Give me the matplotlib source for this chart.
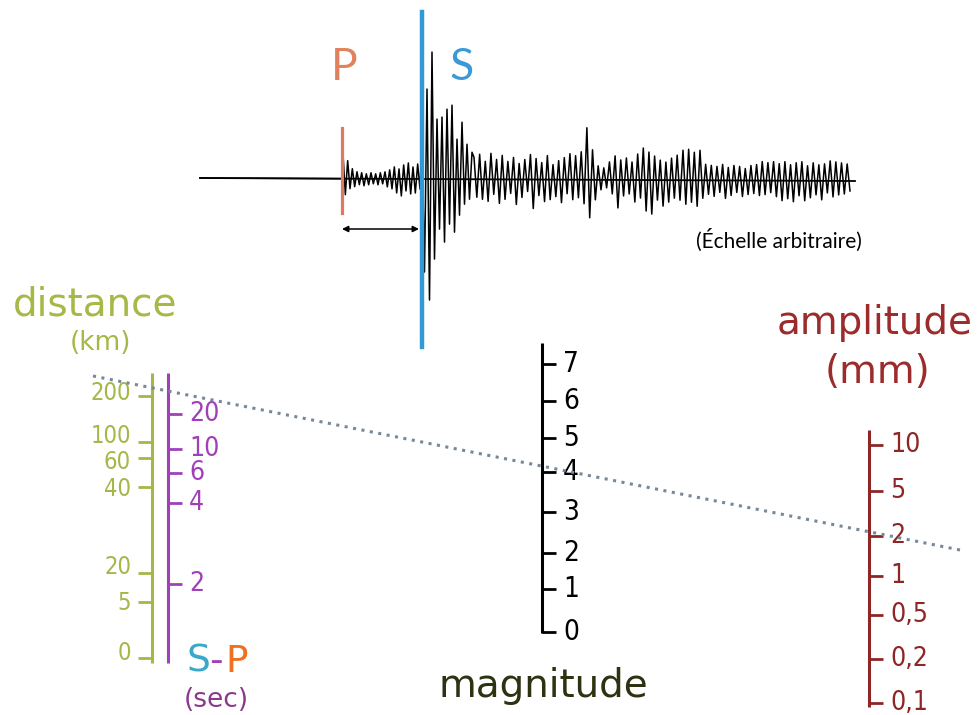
import numpy as np
import matplotlib
matplotlib.use('Agg')
import matplotlib.pyplot as plt

# nomogram scales (labels, bottom -> top)
distance_labels = ['0', '5', '20', '40', '60', '100', '200']
sp_labels = ['2', '4', '6', '10', '20']
magnitude_labels = ['0', '1', '2', '3', '4', '5', '6', '7']
amplitude_labels = ['0,1', '0,2', '0,5', '1', '2', '5', '10']

# seismogram extrema (arbitrary units, + is up)
p_coda = [25, -16, 18, -10, 10, -8, 7, -6, 6, -7,
          5, -6, 6, -5, 5, -6, 6, -5, 7, -8,
          9, -10, 12, -14, 10, -17, 14, -12, 16, -15,
          12, -14, 15, -10]
s_onset = [40, -93, 90, -121, 127, -80, 60, -50, 62, -63,
           70, -45, 74, -53, 40, -36, 57, -25, 35, -20, 27]
coda_mid = [22, -18, 25, -20, 18, -22, 26, -15, 20, -24,
            24, -20, 18, -14, 22, -25, 16, -18, 20, -12,
            25, -29, 21, -16, 17, -22, 24, -20, 15, -17,
            19, -23, 22, -14, 26, -20, 24, -18, 28, -24,
            52, -38, 30, -20, 14, -10, 12, -8, 18, -14,
            24, -28, 20, -16, 22, -14, 18, -22, 26, -18,
            32, -31, 28, -34, 24, -20, 20, -26, 18, -22,
            22, -18, 25, -20]
coda_end = [30, -24, 31, -22, 28, -26, 30, -18, 16, -14,
            15, -16, 14, -12, 16, -18, 13, -15, 15, -12,
            14, -16, 12, -14, 15, -13, 16, -15, 19, -14,
            18, -12, 19, -16, 17, -20, 19, -18, 16, -21,
            18, -15, 19, -20, 15, -17, 18, -14, 16, -19,
            17, -12, 20, -16, 19, -14, 18, -13, 17, -10]

# layout (pixel coordinates of the drawing)
distance_y = [658, 602, 573, 487, 458, 442, 396]
distance_text_y = [653, 603, 567, 489, 462, 436, 393]
sp_y = [584, 503, 473, 449, 414]
magnitude_y = [632, 589, 553, 512, 472, 438, 401, 364]
amplitude_y = [703, 659, 615, 576, 536, 491, 445]

fig = plt.figure(figsize=(9.8, 7.15), dpi=100)
ax = fig.add_axes([0, 0, 1, 1])
ax.set_xlim(0, 980)
ax.set_ylim(715, 0)
ax.axis('off')

# ---- seismogram ----
segments = [(p_coda, 343, 420), (s_onset, 422, 472),
            (coda_mid, 474, 680), (coda_end, 683, 850)]
xs = [np.array([200.0, 342.0])]
amps = [np.array([0.0, 0.0])]
for vals, x0, x1 in segments:
    xs.append(np.linspace(x0, x1, len(vals)))
    amps.append(np.array(vals, dtype=float))
xs = np.concatenate(xs)
amps = np.concatenate(amps)


def baseline(x):
    return np.interp(x, [200, 855], [178, 181])


ax.plot(xs, baseline(xs) - amps, color='black', lw=1.1, zorder=2)
ax.plot([200, 855], baseline(np.array([200, 855])), color='black', lw=1.3, zorder=3)

ax.plot([342, 342], [128, 213], color='#e07a5c', lw=2.3, zorder=4)
ax.plot([422, 422], [12, 347], color='#3399d6', lw=3.2, zorder=4)
ax.text(344, 68, 'P', color='#e0825e', fontsize=32, family='Lato', ha='center', va='center')
ax.text(462, 68, 'S', color='#3a9ad8', fontsize=32, family='Lato', ha='center', va='center')
ax.annotate('', xy=(342, 229), xytext=(419, 229),
            arrowprops=dict(arrowstyle='<|-|>', color='black', lw=1.1, mutation_scale=9,
                            shrinkA=0, shrinkB=0))
ax.text(779, 240, '(Échelle arbitraire)', fontsize=15, family='Lato', ha='center', va='center')


# ---- nomogram scales ----
def draw_scale(x, top, bottom, ticks_y, labels, color, side, fs=19, text_y=None):
    ax.plot([x, x], [top, bottom], color=color, lw=2.2, solid_capstyle='butt')
    sign = -1 if side == 'left' else 1
    if text_y is None:
        text_y = ticks_y
    for y, ty, lab in zip(ticks_y, text_y, labels):
        ax.plot([x, x + sign * 14], [y, y], color=color, lw=2, solid_capstyle='butt')
        ax.text(x + sign * 21, ty, lab, color=color, fontsize=fs, fontstretch='condensed',
                ha='right' if side == 'left' else 'left', va='center')


draw_scale(152, 373, 663, distance_y, distance_labels, '#a3b848', 'left', fs=17,
           text_y=distance_text_y)
draw_scale(168, 373, 663, sp_y, sp_labels, '#a040b8', 'right')
draw_scale(542, 343, 633, magnitude_y, magnitude_labels, 'black', 'right', fs=20)
draw_scale(869, 430, 707, amplitude_y, amplitude_labels, '#8e2626', 'right')

# reading line
ax.plot([93, 960], [376, 550], color='#778899', lw=2.2, ls=(0, (1, 1.8)), zorder=5)

# titles
ax.text(95, 305, 'distance', color='#a4b946', fontsize=28, ha='center', va='center')
ax.text(100, 343, '(km)', color='#a4b946', fontsize=19, ha='center', va='center')
ax.text(875, 323, 'amplitude', color='#9c2b2b', fontsize=28, ha='center', va='center')
ax.text(877, 372, '(mm)', color='#9c2b2b', fontsize=28, ha='center', va='center')
ax.text(543, 686, 'magnitude', color='#2b3311', fontsize=28, ha='center', va='center')
ax.text(198, 662, 'S', color='#3aa8c8', fontsize=27, ha='center', va='center')
ax.text(216, 662, '-', color='#a040b8', fontsize=27, ha='center', va='center')
ax.text(237, 662, 'P', color='#f07020', fontsize=27, ha='center', va='center')
ax.text(216, 700, '(sec)', color='#8b3a8b', fontsize=19, ha='center', va='center')

fig.savefig('out.png', dpi=100)
